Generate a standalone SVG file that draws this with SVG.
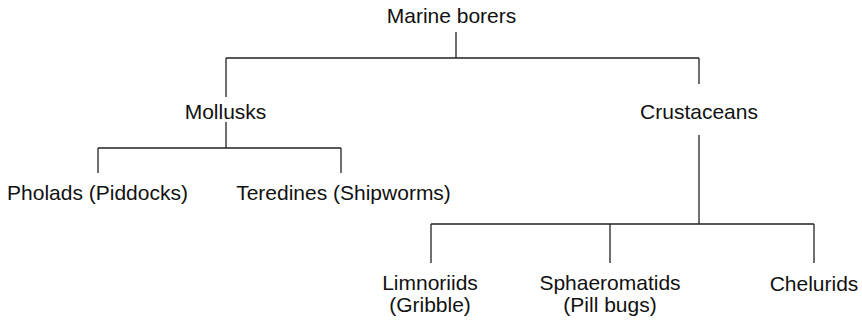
<svg xmlns="http://www.w3.org/2000/svg" width="862" height="322" viewBox="0 0 862 322">
<style>
text{font-family:"Liberation Sans",Arial,sans-serif;font-size:21px;fill:#111;text-anchor:middle}
.c path{fill:none;stroke:#222;stroke-width:1.3}
</style>
<rect width="862" height="322" fill="#fff"/>
<g class="c" id="connectors">
<path d="M456 32V58M226 58H699M226 58V97M699 58V84"/>
<path d="M226 122V148M98 148H341M98 148V173M341 148V173"/>
<path d="M699 135V224M431 224H814M431 224V263M610 224V263M814 224V263"/>
</g>
<g id="marine"><text x="451.5" y="23">Marine borers</text></g>
<g id="mollusks"><text x="225.5" y="119">Mollusks</text></g>
<g id="crustaceans"><text x="699" y="119">Crustaceans</text></g>
<g id="pholads"><text x="97.5" y="200">Pholads (Piddocks)</text></g>
<g id="teredines"><text x="343.5" y="200">Teredines (Shipworms)</text></g>
<g id="limnoriids"><text x="430" y="290">Limnoriids</text><text x="430" y="312">(Gribble)</text></g>
<g id="sphaeromatids"><text x="610" y="290">Sphaeromatids</text><text x="610" y="312">(Pill bugs)</text></g>
<g id="chelurids"><text x="814" y="291">Chelurids</text></g>
</svg>
